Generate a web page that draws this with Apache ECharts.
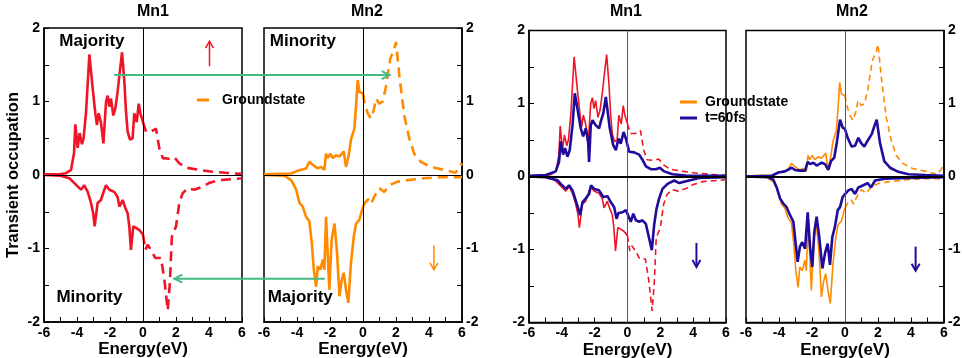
<!DOCTYPE html>
<html><head><meta charset="utf-8">
<script src="https://cdn.jsdelivr.net/npm/echarts@6/dist/echarts.min.js"></script>
<style>html,body{margin:0;padding:0;background:#fff}#c{width:962px;height:358px}</style>
</head><body><div id="c"></div>
<script>
// ---------- labels ----------
const panelTitles = ['Mn1', 'Mn2', 'Mn1', 'Mn2'];
const xRange = [-6, 6];
const yRange = [-2, 2];
const legendNames = ['Groundstate', 't=60fs'];
const xAxisTitle = 'Energy(eV)';
const yAxisTitle = 'Transient occupation';

// ---------- Mn1 ground state  [energy eV, occupation] ----------
const mn1MajOcc = [[-6,0.01],[-5.07,0.01],[-4.67,0.025],[-4.36,0.07],[-4.26,0.09],[-4.18,0.3],[-4.1,0.69],[-3.96,0.37],[-3.84,0.57],[-3.7,0.42],[-3.6,0.5],[-3.45,0.86],[-3.25,1.64],[-3.05,1.18],[-2.89,0.84],[-2.79,0.68],[-2.69,0.84],[-2.55,0.72],[-2.4,0.43],[-2.24,1.0],[-2.14,1.08],[-2.04,0.93],[-1.94,1.04],[-1.8,0.81],[-1.68,0.9],[-1.54,1.13],[-1.43,1.36],[-1.27,1.67],[-1.13,1.27],[-1.03,0.86],[-0.93,0.59],[-0.79,0.48],[-0.63,0.5],[-0.53,0.84],[-0.38,0.72],[-0.26,0.97],[-0.16,0.84],[0,0.72]];
const mn1MajUnocc = [[0,0.72],[0.18,0.59],[0.48,0.59],[0.79,0.63],[0.99,0.36],[1.2,0.23],[1.6,0.22],[1.9,0.24],[2.2,0.16],[2.6,0.1],[3.4,0.07],[4.2,0.045],[5.0,0.03],[6,0.015]];
const mn1MinOcc = [[-6,0],[-5,-0.01],[-4.46,-0.045],[-4.16,-0.11],[-3.76,-0.2],[-3.56,-0.14],[-3.35,-0.23],[-3.15,-0.38],[-3.02,-0.52],[-2.93,-0.7],[-2.75,-0.38],[-2.55,-0.34],[-2.34,-0.2],[-2.24,-0.14],[-2.04,-0.2],[-1.74,-0.23],[-1.54,-0.3],[-1.43,-0.43],[-1.23,-0.34],[-1.07,-0.45],[-0.93,-0.52],[-0.83,-0.7],[-0.73,-1.02],[-0.59,-0.7],[-0.42,-0.72],[-0.22,-0.75],[0,-0.81]];
const mn1MinUnocc = [[0,-0.81],[0.14,-1.02],[0.28,-0.95],[0.48,-1.02],[0.75,-1.13],[1.09,-1.13],[1.3,-1.43],[1.5,-1.84],[1.63,-1.46],[1.75,-0.84],[2.0,-0.7],[2.2,-0.38],[2.4,-0.25],[2.7,-0.18],[3.1,-0.2],[3.6,-0.16],[4.0,-0.11],[4.6,-0.07],[6,-0.045]];

// ---------- Mn2 ground state ----------
const mn2MinOcc = [[-6,0.01],[-4.35,0.02],[-4.05,0.05],[-3.75,0.07],[-3.45,0.09],[-3.25,0.18],[-3.05,0.14],[-2.74,0.09],[-2.54,0.11],[-2.34,0.07],[-2.24,0.29],[-2.14,0.23],[-1.98,0.29],[-1.83,0.23],[-1.63,0.27],[-1.43,0.25],[-1.17,0.32],[-1.03,0.11],[-0.93,0.2],[-0.83,0.32],[-0.73,0.48],[-0.52,0.63],[-0.42,0.95],[-0.32,1.29],[-0.22,1.13],[-0.12,1.15],[0,1.11]];
const mn2MinUnocc = [[0,1.11],[0.08,1.0],[0.28,0.84],[0.48,0.77],[0.65,0.88],[0.79,1.04],[0.99,0.97],[1.19,1.0],[1.39,1.2],[1.65,1.58],[1.9,1.72],[2.0,1.81],[2.2,1.36],[2.5,0.81],[2.8,0.5],[3.1,0.29],[3.5,0.18],[4.1,0.11],[4.9,0.07],[5.6,0.03],[5.8,0.09],[6,0.16]];
const mn2MajOcc = [[-6,0],[-4.76,-0.01],[-4.35,-0.07],[-4.05,-0.2],[-3.85,-0.38],[-3.65,-0.43],[-3.45,-0.57],[-3.25,-0.63],[-3.1,-0.93],[-2.98,-1.29],[-2.84,-1.52],[-2.74,-1.24],[-2.58,-1.29],[-2.44,-1.15],[-2.34,-1.29],[-2.24,-0.57],[-2.14,-1.06],[-2.04,-1.56],[-1.9,-0.88],[-1.73,-0.66],[-1.57,-1.06],[-1.43,-1.65],[-1.29,-1.43],[-1.17,-1.33],[-1.03,-1.56],[-0.89,-1.74],[-0.73,-1.2],[-0.56,-0.84],[-0.42,-0.66],[-0.22,-0.61],[0,-0.43]];
const mn2MajUnocc = [[0,-0.43],[0.18,-0.36],[0.38,-0.32],[0.52,-0.38],[0.69,-0.29],[0.99,-0.18],[1.29,-0.23],[1.59,-0.14],[2.1,-0.09],[2.7,-0.07],[3.7,-0.045],[4.7,-0.03],[6,-0.03]];

// ---------- t = 60 fs ----------
const mn1MajT60 = [[-6,0.01],[-4.98,0.02],[-4.37,0.07],[-4.17,0.2],[-4.07,0.48],[-3.92,0.3],[-3.8,0.39],[-3.66,0.27],[-3.52,0.36],[-3.35,0.7],[-3.21,1.14],[-3.05,0.93],[-2.85,0.66],[-2.7,0.55],[-2.54,0.66],[-2.4,0.48],[-2.34,0.2],[-2.24,0.7],[-2.13,0.77],[-1.93,0.7],[-1.73,0.66],[-1.63,0.75],[-1.48,0.86],[-1.32,1.09],[-1.22,1.09],[-1.08,0.66],[-0.87,0.43],[-0.71,0.36],[-0.55,0.52],[-0.41,0.45],[-0.24,0.61],[-0.1,0.52],[0,0.43],[0.1,0.34],[0.41,0.33],[0.71,0.3],[0.91,0.23],[1.12,0.14],[1.42,0.1],[1.73,0.1],[1.97,0.12],[2.24,0.07],[2.74,0.03],[3.56,0.014],[6,0.01]];
const mn1MinT60 = [[-6,0],[-5,-0.01],[-4.27,-0.05],[-4.07,-0.1],[-3.76,-0.17],[-3.56,-0.12],[-3.35,-0.19],[-3.15,-0.33],[-3.0,-0.44],[-2.89,-0.53],[-2.74,-0.35],[-2.54,-0.3],[-2.34,-0.24],[-2.22,-0.12],[-2.03,-0.17],[-1.73,-0.19],[-1.48,-0.28],[-1.22,-0.27],[-1.02,-0.35],[-0.81,-0.42],[-0.67,-0.58],[-0.55,-0.5],[-0.3,-0.49],[-0.1,-0.46],[0,-0.47],[0.2,-0.62],[0.35,-0.51],[0.51,-0.6],[0.71,-0.62],[0.91,-0.6],[1.12,-0.65],[1.32,-0.85],[1.48,-1.01],[1.63,-0.65],[1.77,-0.44],[1.93,-0.3],[2.13,-0.17],[2.44,-0.1],[2.85,-0.055],[3.15,-0.09],[3.56,-0.064],[4.37,-0.02],[6,-0.01]];
const mn2MinT60 = [[-6,0],[-4.44,0.01],[-4.04,0.055],[-3.64,0.07],[-3.23,0.12],[-3.03,0.09],[-2.73,0.08],[-2.42,0.08],[-2.26,0.2],[-2.12,0.17],[-1.92,0.19],[-1.72,0.15],[-1.41,0.19],[-1.21,0.17],[-1.01,0.09],[-0.85,0.21],[-0.65,0.26],[-0.5,0.46],[-0.3,0.78],[-0.14,0.67],[0,0.65],[0.16,0.53],[0.4,0.41],[0.61,0.42],[0.81,0.53],[0.97,0.46],[1.17,0.41],[1.37,0.49],[1.62,0.58],[1.78,0.69],[1.92,0.78],[2.12,0.46],[2.38,0.21],[2.73,0.12],[3.23,0.064],[3.84,0.03],[4.85,0.02],[6,0.01]];
const mn2MajT60 = [[-6,0],[-4.65,-0.01],[-4.34,-0.045],[-4.14,-0.15],[-3.94,-0.3],[-3.74,-0.37],[-3.54,-0.42],[-3.33,-0.53],[-3.13,-0.62],[-2.99,-0.92],[-2.87,-1.17],[-2.73,-0.96],[-2.59,-0.9],[-2.42,-0.99],[-2.26,-0.49],[-2.12,-0.96],[-1.98,-1.24],[-1.86,-0.76],[-1.72,-0.55],[-1.56,-0.83],[-1.37,-1.26],[-1.21,-1.05],[-1.05,-0.92],[-0.91,-1.21],[-0.77,-0.83],[-0.61,-0.69],[-0.44,-0.46],[-0.3,-0.42],[-0.14,-0.28],[0,-0.24],[0.2,-0.19],[0.4,-0.17],[0.61,-0.24],[0.81,-0.15],[1.11,-0.12],[1.37,-0.09],[1.58,-0.15],[1.82,-0.055],[2.42,-0.03],[3.84,-0.02],[6,-0.01]];

// ---------- styling ----------
const RED = '#ee1526', ORANGE = '#ff8a00', BLUE = '#1f0c9c', GREEN = '#45bb80';
const FONT = '"Liberation Sans", Arial, Helvetica, sans-serif';

const grids = [
  {left: 44, top: 28, width: 198, height: 294},
  {left: 264, top: 28, width: 198, height: 294},
  {left: 529, top: 30.5, width: 197, height: 292},
  {left: 746, top: 30.5, width: 198, height: 292}
];
const titleCenters = [153, 367, 626, 852];

function lineSeries(name, data, grid, color, width, dash) {
  return {
    type: 'line', name: name, data: data, xAxisIndex: grid, yAxisIndex: grid,
    color: color, symbol: 'none', showSymbol: false, silent: true,
    lineStyle: {color: color, width: width, type: dash || 'solid'},
    itemStyle: {color: color}, animation: false
  };
}
function zeroLines(series, heavy) {
  series.markLine = {
    silent: true, symbol: 'none', animation: false, label: {show: false},
    lineStyle: {color: '#000', width: 1, type: 'solid'},
    data: heavy ? [{xAxis: 0, lineStyle: {color: '#555', width: 1}}, {yAxis: 0, lineStyle: {color: '#000', width: 2}}]
                : [{xAxis: 0}, {yAxis: 0}]
  };
  return series;
}

const series = [
  zeroLines(lineSeries('Mn1 groundstate', mn1MajOcc, 0, RED, 2.6), false),
  lineSeries('Mn1 groundstate', mn1MajUnocc, 0, RED, 2.6, [10, 6]),
  lineSeries('Mn1 groundstate', mn1MinOcc, 0, RED, 2.6),
  lineSeries('Mn1 groundstate', mn1MinUnocc, 0, RED, 2.6, [10, 6]),

  zeroLines(lineSeries(legendNames[0], mn2MinOcc, 1, ORANGE, 2.6), false),
  lineSeries(legendNames[0], mn2MinUnocc, 1, ORANGE, 2.6, [10, 6]),
  lineSeries(legendNames[0], mn2MajOcc, 1, ORANGE, 2.6),
  lineSeries(legendNames[0], mn2MajUnocc, 1, ORANGE, 2.6, [10, 6]),

  zeroLines(lineSeries('Mn1 groundstate', mn1MajOcc, 2, RED, 1.6), true),
  lineSeries('Mn1 groundstate', mn1MajUnocc, 2, RED, 1.6, [6, 4]),
  lineSeries('Mn1 groundstate', mn1MinOcc, 2, RED, 1.6),
  lineSeries('Mn1 groundstate', mn1MinUnocc, 2, RED, 1.6, [6, 4]),
  lineSeries(legendNames[1], mn1MajT60, 2, BLUE, 2.6),
  lineSeries(legendNames[1], mn1MinT60, 2, BLUE, 2.6),

  zeroLines(lineSeries(legendNames[0], mn2MinOcc, 3, ORANGE, 1.6), true),
  lineSeries(legendNames[0], mn2MinUnocc, 3, ORANGE, 1.6, [6, 4]),
  lineSeries(legendNames[0], mn2MajOcc, 3, ORANGE, 1.6),
  lineSeries(legendNames[0], mn2MajUnocc, 3, ORANGE, 1.6, [6, 4]),
  lineSeries(legendNames[1], mn2MinT60, 3, BLUE, 2.6),
  lineSeries(legendNames[1], mn2MajT60, 3, BLUE, 2.6)
];

const labelStyle = {color: '#000', fontWeight: 'bold', fontSize: 14, fontFamily: FONT};

const xAxes = grids.map((g, i) => ({
  type: 'value', gridIndex: i, min: xRange[0], max: xRange[1], interval: 2,
  axisLine: {show: true, onZero: false, lineStyle: {color: '#000', width: 1.5}}, splitLine: {show: false},
  axisTick: {show: true, inside: true, length: 5, lineStyle: {color: '#000', width: 1}},
  minorTick: {show: true, splitNumber: 2, length: 5, lineStyle: {color: '#000', width: 1}},
  axisLabel: Object.assign({margin: 4, showMinLabel: true, showMaxLabel: true}, labelStyle),
  name: xAxisTitle, nameLocation: 'middle', nameGap: 19, nameMoveOverlap: false,
  nameTextStyle: {color: '#000', fontWeight: 'bold', fontSize: 17, fontFamily: FONT}
}));

const yAxes = grids.map((g, i) => {
  const ax = {
    type: 'value', gridIndex: i, min: yRange[0], max: yRange[1], interval: 1,
    position: (i === 1 || i === 3) ? 'right' : 'left',
    axisLine: {show: true, onZero: false, lineStyle: {color: '#000', width: 1.5}}, splitLine: {show: false},
    axisTick: {show: true, inside: true, length: 5, lineStyle: {color: '#000', width: 1}},
    minorTick: {show: true, splitNumber: 2, length: 5, lineStyle: {color: '#000', width: 1}},
    axisLabel: Object.assign({margin: 4, showMinLabel: true, showMaxLabel: true}, labelStyle)
  };
  if (i === 0) {
    ax.name = yAxisTitle; ax.nameLocation = 'middle'; ax.nameGap = 22; ax.nameRotate = 90; ax.nameMoveOverlap = false;
    ax.nameTextStyle = {color: '#000', fontWeight: 'bold', fontSize: 16.5, fontFamily: FONT};
  }
  return ax;
});

const option = {
  backgroundColor: '#fff',
  animation: false,
  textStyle: {fontFamily: FONT},
  title: panelTitles.map((t, i) => ({
    text: t, left: titleCenters[i], top: 4, textAlign: 'center', padding: 0,
    textStyle: {color: '#000', fontWeight: 'bold', fontSize: 16, fontFamily: FONT}
  })),
  grid: grids.map(g => Object.assign({show: true, borderColor: '#000', borderWidth: 1.5, backgroundColor: 'transparent',
    containLabel: false, outerBoundsMode: 'none'}, g)),
  xAxis: xAxes,
  yAxis: yAxes,
  legend: [
    {data: [legendNames[0]], left: 197, top: 93, orient: 'vertical', icon: 'rect', itemWidth: 12, itemHeight: 3,
     selectedMode: false, padding: 0,
     textStyle: {color: '#000', fontWeight: 'bold', fontSize: 14, fontFamily: FONT, padding: [0, 0, 0, 8]}},
    {data: legendNames, left: 680, top: 95, orient: 'vertical', icon: 'rect', itemWidth: 17, itemHeight: 3, itemGap: 2,
     selectedMode: false, padding: 0,
     textStyle: {color: '#000', fontWeight: 'bold', fontSize: 14, fontFamily: FONT, padding: [0, 0, 0, 3]}}
  ],
  series: series
};

const chart = echarts.init(document.getElementById('c'), null, {renderer: 'canvas'});
chart.setOption(option);

// ---------- annotations (placed in data coordinates through the axes) ----------
function px(g, p) { return chart.convertToPixel({gridIndex: g}, p); }
function arrow(a, b, color, lw, hl, hw) {
  const dx = b[0] - a[0], dy = b[1] - a[1], L = Math.hypot(dx, dy);
  const ux = dx / L, uy = dy / L, nx = -uy, ny = ux;
  return [
    {type: 'line', silent: true, z: 50, shape: {x1: a[0], y1: a[1], x2: b[0], y2: b[1]}, style: {stroke: color, lineWidth: lw}},
    {type: 'polyline', silent: true, z: 50, shape: {points: [[b[0] - ux * hl + nx * hw, b[1] - uy * hl + ny * hw], b, [b[0] - ux * hl - nx * hw, b[1] - uy * hl - ny * hw]]},
     style: {stroke: color, lineWidth: lw, fill: null}}
  ];
}
function label(g, p, text) {
  const q = px(g, p);
  return {type: 'text', silent: true, z: 50, x: q[0], y: q[1],
    style: {text: text, fill: '#000', fontSize: 17, fontWeight: 'bold', fontFamily: FONT, verticalAlign: 'middle', align: 'left'}};
}
const graphics = [].concat(
  arrow(px(0, [4.03, 1.48]), px(0, [4.03, 1.82]), RED, 1.5, 7, 4),
  arrow(px(1, [4.3, -0.96]), px(1, [4.3, -1.29]), ORANGE, 1.5, 7, 4),
  arrow(px(2, [4.2, -0.91]), px(2, [4.2, -1.24]), BLUE, 2, 7, 4),
  arrow(px(3, [4.28, -0.96]), px(3, [4.28, -1.29]), BLUE, 2, 7, 4),
  arrow(px(0, [-1.74, 1.36]), px(1, [1.62, 1.36]), GREEN, 2, 8, 4),
  arrow(px(1, [-2.32, -1.41]), px(0, [1.9, -1.41]), GREEN, 2, 8, 4),
  [label(0, [-5.07, 1.82], 'Majority'), label(0, [-5.25, -1.67], 'Minority'),
   label(1, [-5.65, 1.82], 'Minority'), label(1, [-5.78, -1.66], 'Majority')]
);
chart.setOption({graphic: graphics});
</script>
</body></html>
